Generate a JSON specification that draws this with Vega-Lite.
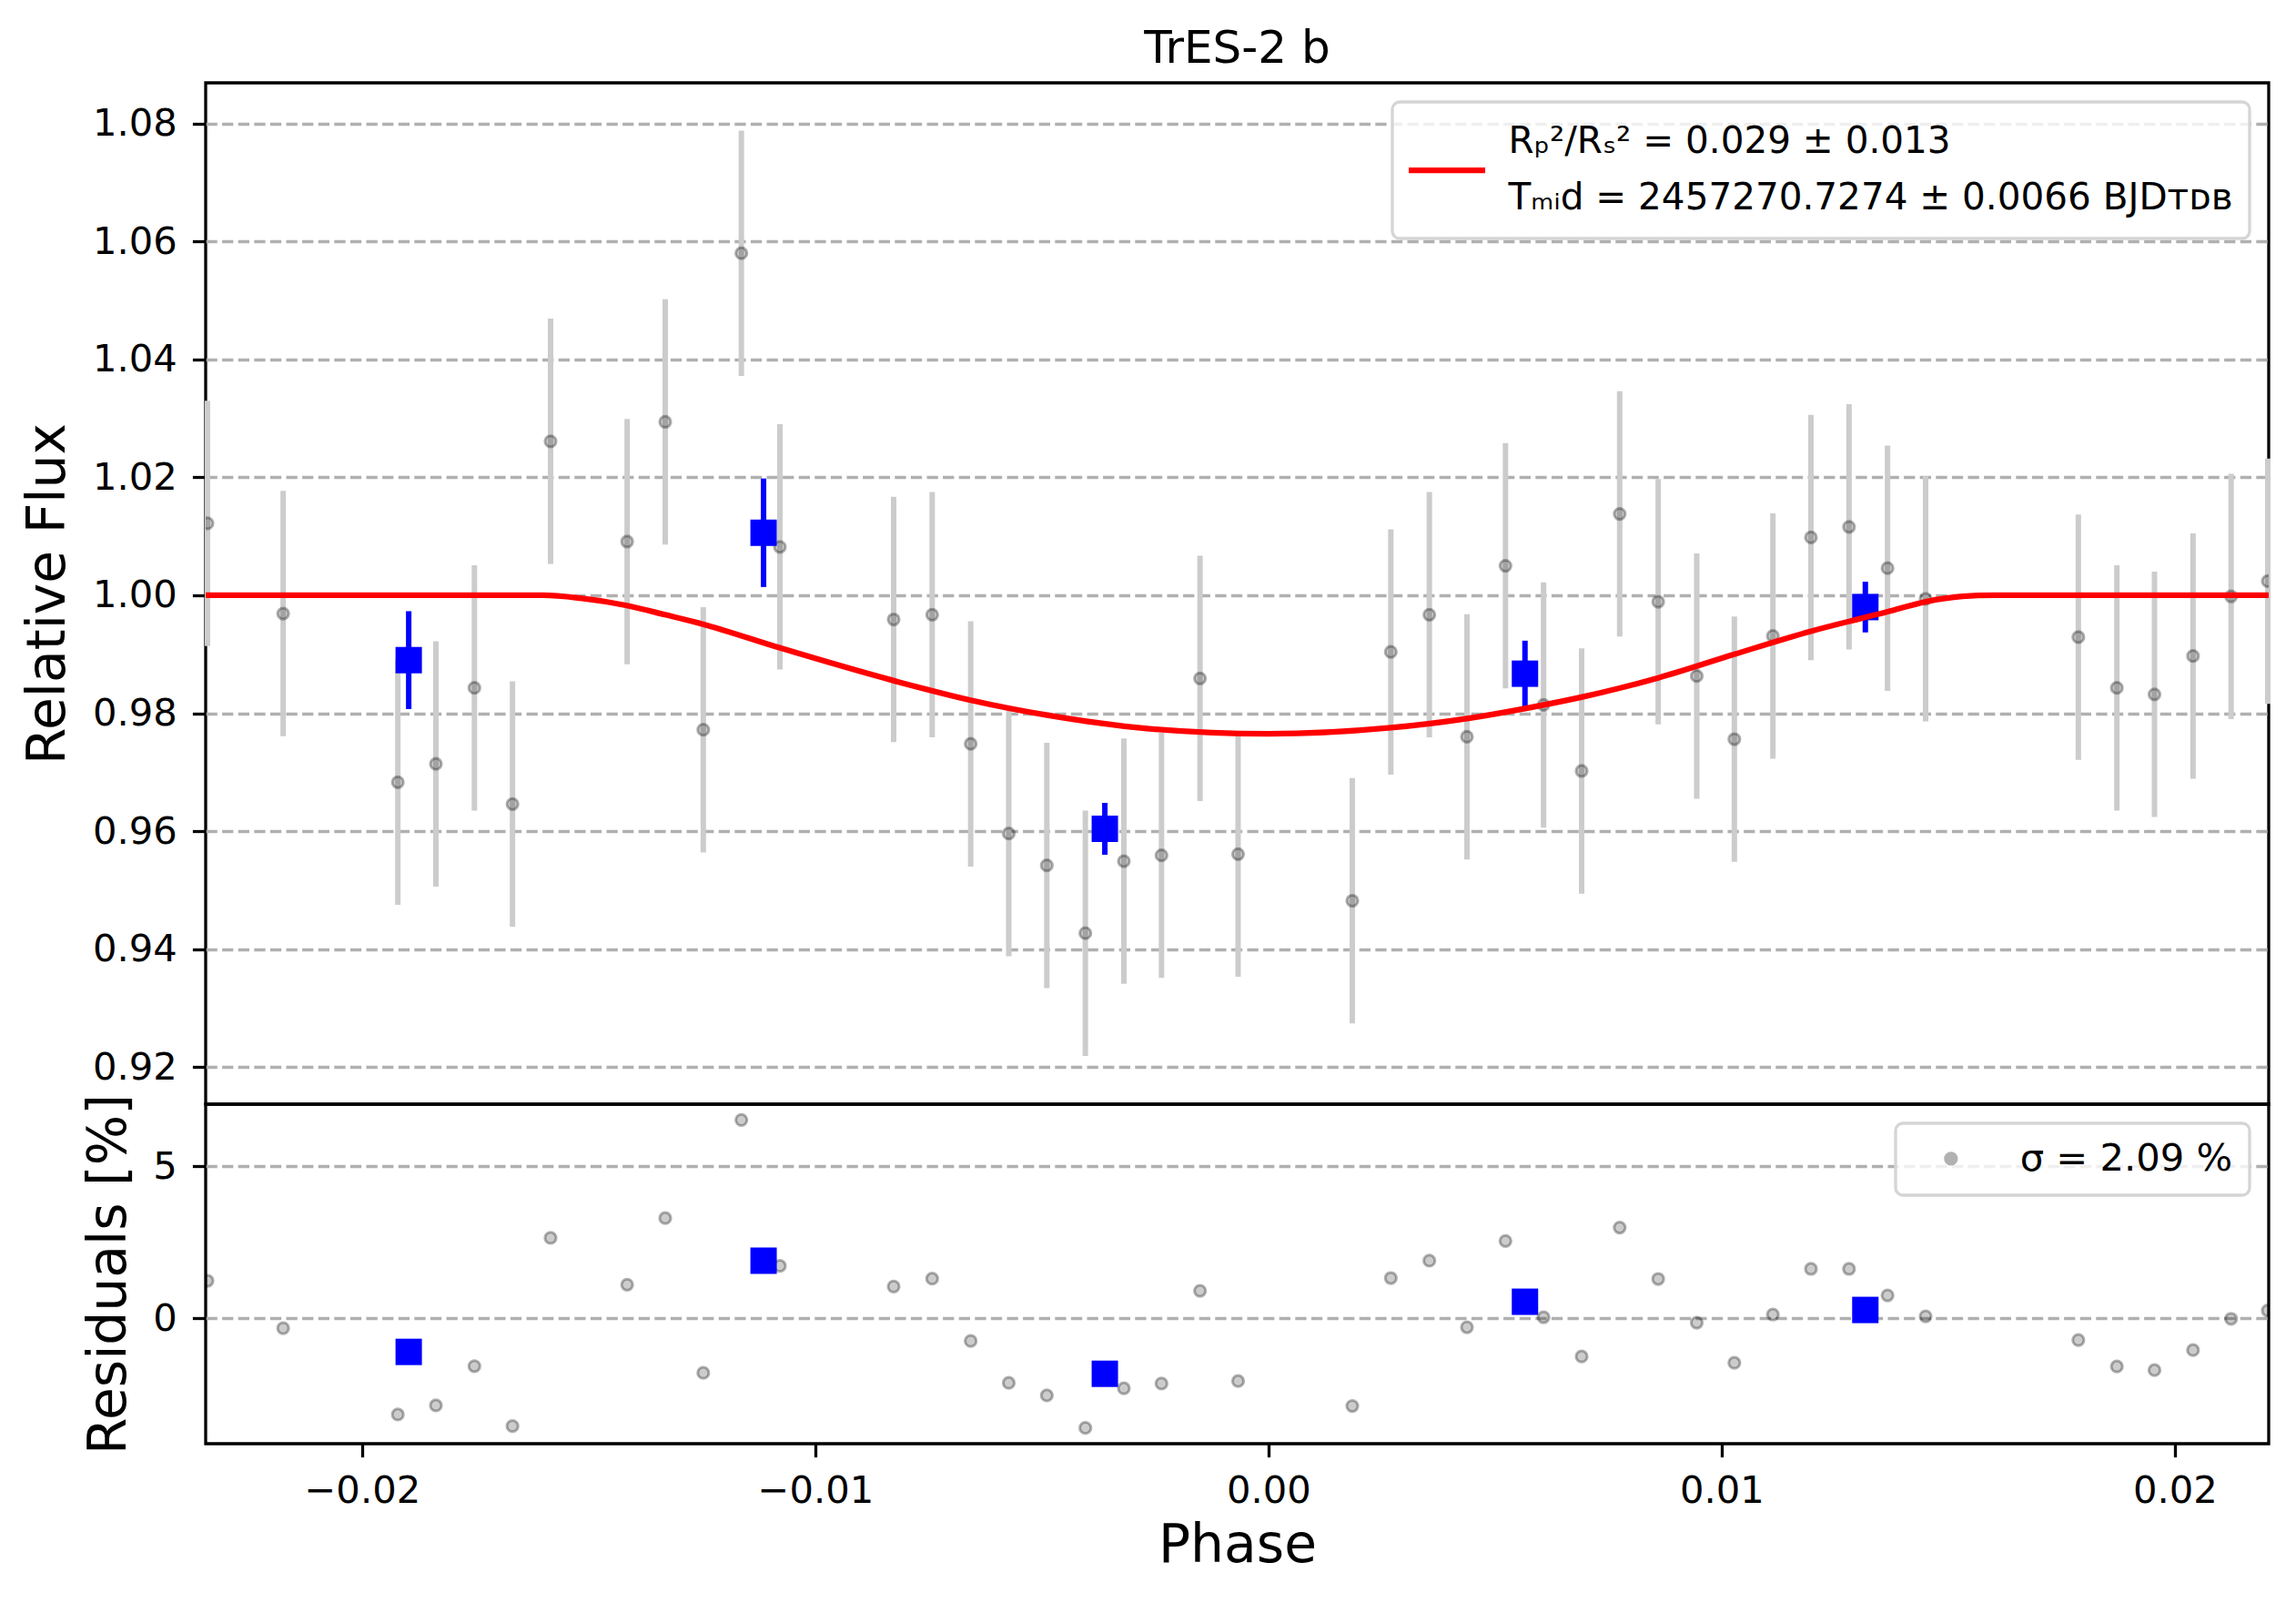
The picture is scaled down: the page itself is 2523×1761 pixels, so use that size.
{
  "$schema": "https://vega.github.io/schema/vega-lite/v6.json",
  "background": "white",
  "padding": {"left": 21, "top": 27, "right": 0, "bottom": 0},
  "spacing": 0,
  "bounds": "flush",
  "datasets": {
    "raw": [
      {"phase": -0.02341, "flux": 1.0122, "err": 0.0208, "resid": 1.23},
      {"phase": -0.02174, "flux": 0.9969, "err": 0.0208, "resid": -0.33},
      {"phase": -0.01921, "flux": 0.9683, "err": 0.0208, "resid": -3.17},
      {"phase": -0.01837, "flux": 0.9714, "err": 0.0208, "resid": -2.87},
      {"phase": -0.01752, "flux": 0.9843, "err": 0.0208, "resid": -1.58},
      {"phase": -0.01668, "flux": 0.9646, "err": 0.0208, "resid": -3.55},
      {"phase": -0.01584, "flux": 1.0261, "err": 0.0208, "resid": 2.64},
      {"phase": -0.01415, "flux": 1.0091, "err": 0.0208, "resid": 1.10},
      {"phase": -0.01331, "flux": 1.0294, "err": 0.0208, "resid": 3.29},
      {"phase": -0.01247, "flux": 0.9772, "err": 0.0208, "resid": -1.80},
      {"phase": -0.01163, "flux": 1.0580, "err": 0.0208, "resid": 6.52},
      {"phase": -0.01078, "flux": 1.0082, "err": 0.0208, "resid": 1.72},
      {"phase": -0.00827, "flux": 0.9959, "err": 0.0208, "resid": 1.04},
      {"phase": -0.00742, "flux": 0.9967, "err": 0.0208, "resid": 1.30},
      {"phase": -0.00657, "flux": 0.9748, "err": 0.0208, "resid": -0.75},
      {"phase": -0.00573, "flux": 0.9596, "err": 0.0208, "resid": -2.13},
      {"phase": -0.00489, "flux": 0.9542, "err": 0.0208, "resid": -2.54},
      {"phase": -0.00404, "flux": 0.9427, "err": 0.0208, "resid": -3.61},
      {"phase": -0.00319, "flux": 0.9549, "err": 0.0208, "resid": -2.31},
      {"phase": -0.00236, "flux": 0.9559, "err": 0.0208, "resid": -2.15},
      {"phase": -0.00151, "flux": 0.9859, "err": 0.0208, "resid": 0.90},
      {"phase": -0.00067, "flux": 0.9561, "err": 0.0208, "resid": -2.07},
      {"phase": 0.00185, "flux": 0.9482, "err": 0.0208, "resid": -2.89},
      {"phase": 0.00270, "flux": 0.9904, "err": 0.0208, "resid": 1.32},
      {"phase": 0.00355, "flux": 0.9967, "err": 0.0208, "resid": 1.89},
      {"phase": 0.00438, "flux": 0.9760, "err": 0.0208, "resid": -0.30},
      {"phase": 0.00523, "flux": 1.0050, "err": 0.0208, "resid": 2.54},
      {"phase": 0.00607, "flux": 0.9814, "err": 0.0208, "resid": 0.03},
      {"phase": 0.00691, "flux": 0.9702, "err": 0.0208, "resid": -1.26},
      {"phase": 0.00775, "flux": 1.0138, "err": 0.0208, "resid": 2.98},
      {"phase": 0.00860, "flux": 0.9989, "err": 0.0208, "resid": 1.29},
      {"phase": 0.00945, "flux": 0.9863, "err": 0.0208, "resid": -0.15},
      {"phase": 0.01028, "flux": 0.9756, "err": 0.0208, "resid": -1.47},
      {"phase": 0.01113, "flux": 0.9931, "err": 0.0208, "resid": 0.12},
      {"phase": 0.01197, "flux": 1.0098, "err": 0.0208, "resid": 1.62},
      {"phase": 0.01281, "flux": 1.0116, "err": 0.0208, "resid": 1.62},
      {"phase": 0.01366, "flux": 1.0046, "err": 0.0208, "resid": 0.75},
      {"phase": 0.01450, "flux": 0.9994, "err": 0.0208, "resid": 0.06},
      {"phase": 0.01787, "flux": 0.9929, "err": 0.0208, "resid": -0.72},
      {"phase": 0.01872, "flux": 0.9843, "err": 0.0208, "resid": -1.59},
      {"phase": 0.01955, "flux": 0.9832, "err": 0.0208, "resid": -1.71},
      {"phase": 0.02040, "flux": 0.9897, "err": 0.0208, "resid": -1.05},
      {"phase": 0.02124, "flux": 0.9998, "err": 0.0208, "resid": -0.02},
      {"phase": 0.02205, "flux": 1.0024, "err": 0.0208, "resid": 0.25}
    ],
    "binned": [
      {"phase": -0.01897, "flux": 0.9890, "err": 0.0083, "resid": -1.11},
      {"phase": -0.01114, "flux": 1.0106, "err": 0.0092, "resid": 1.89},
      {"phase": -0.00361, "flux": 0.9604, "err": 0.0044, "resid": -1.83},
      {"phase": 0.00566, "flux": 0.9867, "err": 0.0056, "resid": 0.54},
      {"phase": 0.01317, "flux": 0.9980, "err": 0.0043, "resid": 0.27}
    ],
    "model": [
      {"phase": -0.02345, "flux": 1.0},
      {"phase": -0.01600, "flux": 1.0},
      {"phase": -0.01518, "flux": 0.9995},
      {"phase": -0.01418, "flux": 0.9983},
      {"phase": -0.01331, "flux": 0.9967},
      {"phase": -0.01248, "flux": 0.9951},
      {"phase": -0.01079, "flux": 0.9911},
      {"phase": -0.00826, "flux": 0.9855},
      {"phase": -0.00657, "flux": 0.9822},
      {"phase": -0.00491, "flux": 0.9797},
      {"phase": -0.00268, "flux": 0.9774},
      {"phase": 0.0, "flux": 0.9765},
      {"phase": 0.00265, "flux": 0.9775},
      {"phase": 0.00438, "flux": 0.9791},
      {"phase": 0.00566, "flux": 0.9808},
      {"phase": 0.00695, "flux": 0.9828},
      {"phase": 0.00860, "flux": 0.9860},
      {"phase": 0.01028, "flux": 0.9900},
      {"phase": 0.01197, "flux": 0.9939},
      {"phase": 0.01366, "flux": 0.9972},
      {"phase": 0.01450, "flux": 0.9989},
      {"phase": 0.01531, "flux": 0.9998},
      {"phase": 0.01600, "flux": 1.0},
      {"phase": 0.02207, "flux": 1.0}
    ]
  },
  "vconcat": [
    {
      "title": {"text": "TrES-2 b", "fontSize": 50, "fontWeight": "normal", "color": "black", "anchor": "middle", "offset": 12},
      "width": 2267,
      "height": 1122,
      "encoding": {
        "x": {"field": "phase", "type": "quantitative", "scale": {"domain": [-0.02345, 0.02207], "nice": false, "zero": false}, "axis": null},
        "y": {
          "field": "flux", "type": "quantitative",
          "scale": {"domain": [0.9137, 1.0869], "nice": false, "zero": false},
          "axis": {"title": "Relative Flux", "values": [0.92, 0.94, 0.96, 0.98, 1.0, 1.02, 1.04, 1.06, 1.08], "format": ".2f", "titlePadding": 19}
        }
      },
      "layer": [
        {
          "data": {"name": "raw"},
          "mark": {"type": "errorbar", "color": "#cccccc", "thickness": 6},
          "encoding": {"yError": {"field": "err"}}
        },
        {
          "data": {"name": "raw"},
          "mark": {"type": "point", "shape": "circle", "filled": true, "size": 150, "fill": "black", "fillOpacity": 0.2, "stroke": "black", "strokeOpacity": 0.3, "strokeWidth": 3, "clip": true}
        },
        {
          "data": {"name": "binned"},
          "mark": {"type": "errorbar", "color": "#0000ff", "thickness": 6},
          "encoding": {"yError": {"field": "err"}}
        },
        {
          "data": {"name": "binned"},
          "mark": {"type": "point", "shape": "square", "filled": true, "size": 841, "color": "#0000ff", "opacity": 1}
        },
        {
          "data": {"name": "model"},
          "mark": {"type": "line", "strokeWidth": 6.25, "interpolate": "monotone", "clip": true},
          "encoding": {
            "color": {
              "datum": "model",
              "scale": {"range": ["#ff0000"]},
              "legend": {
                "title": null,
                "symbolType": "stroke",
                "symbolSize": 7744,
                "symbolStrokeWidth": 6.25,
                "symbolOffset": -7.5,
                "labelOffset": 22,
                "labelFontSize": 40.5,
                "clipHeight": 114,
                "labelBaseline": "line-bottom",
                "labelExpr": "['Rₚ²/Rₛ² = 0.029 ± 0.013', 'Tₘᵢd = 2457270.7274 ± 0.0066 BJDᴛᴅʙ']"
              }
            }
          }
        }
      ]
    },
    {
      "width": 2267,
      "height": 373,
      "encoding": {
        "x": {
          "field": "phase", "type": "quantitative",
          "scale": {"domain": [-0.02345, 0.02207], "nice": false, "zero": false},
          "axis": {"title": "Phase", "values": [-0.02, -0.01, 0, 0.01, 0.02], "format": ".2f", "titlePadding": 10}
        },
        "y": {
          "field": "resid", "type": "quantitative",
          "scale": {"domain": [-4.13, 7.04], "nice": false, "zero": false},
          "axis": {"title": "Residuals [%]", "values": [0, 5], "format": "d", "titlePadding": 18}
        }
      },
      "layer": [
        {
          "data": {"name": "raw"},
          "mark": {"type": "point", "shape": "circle", "filled": true, "size": 150, "fillOpacity": 0.2, "stroke": "black", "strokeOpacity": 0.3, "strokeWidth": 3, "clip": true},
          "encoding": {
            "color": {
              "datum": "resid",
              "scale": {"range": ["black"]},
              "legend": {
                "title": null,
                "symbolType": "circle",
                "symbolSize": 150,
                "symbolOpacity": 0.3,
                "symbolStrokeWidth": 3,
                "symbolOffset": 22,
                "labelOffset": 55,
                "labelExpr": "'σ = 2.09 %'"
              }
            }
          }
        },
        {
          "data": {"name": "binned"},
          "mark": {"type": "point", "shape": "square", "filled": true, "size": 841, "color": "#0000ff", "opacity": 1}
        }
      ]
    }
  ],
  "resolve": {"scale": {"color": "independent"}},
  "config": {
    "font": "DejaVu Sans",
    "view": {"stroke": "black", "strokeWidth": 3.3},
    "title": {"font": "DejaVu Sans"},
    "axis": {
      "domain": false,
      "labelFlush": false,
      "labelFont": "DejaVu Sans",
      "labelFontSize": 41.7,
      "labelColor": "black",
      "labelPadding": 17,
      "tickColor": "black",
      "tickWidth": 3.3,
      "tickSize": 14.6,
      "titleFont": "DejaVu Sans",
      "titleFontSize": 58.3,
      "titleFontWeight": "normal",
      "titleColor": "black",
      "gridColor": "#b0b0b0",
      "gridDash": [12.3, 5.3],
      "gridWidth": 3.3
    },
    "axisX": {"grid": false},
    "axisY": {"grid": true},
    "legend": {
      "orient": "top-right",
      "offset": 21,
      "padding": 18,
      "labelFont": "DejaVu Sans",
      "labelFontSize": 41.7,
      "labelColor": "black",
      "labelLimit": 0,
      "strokeColor": "#d5d5d5",
      "strokeWidth": 3.3,
      "fillColor": "rgba(255,255,255,0.8)",
      "cornerRadius": 8
    },
    "style": {"guide-label": {"lineHeight": 62}}
  }
}
